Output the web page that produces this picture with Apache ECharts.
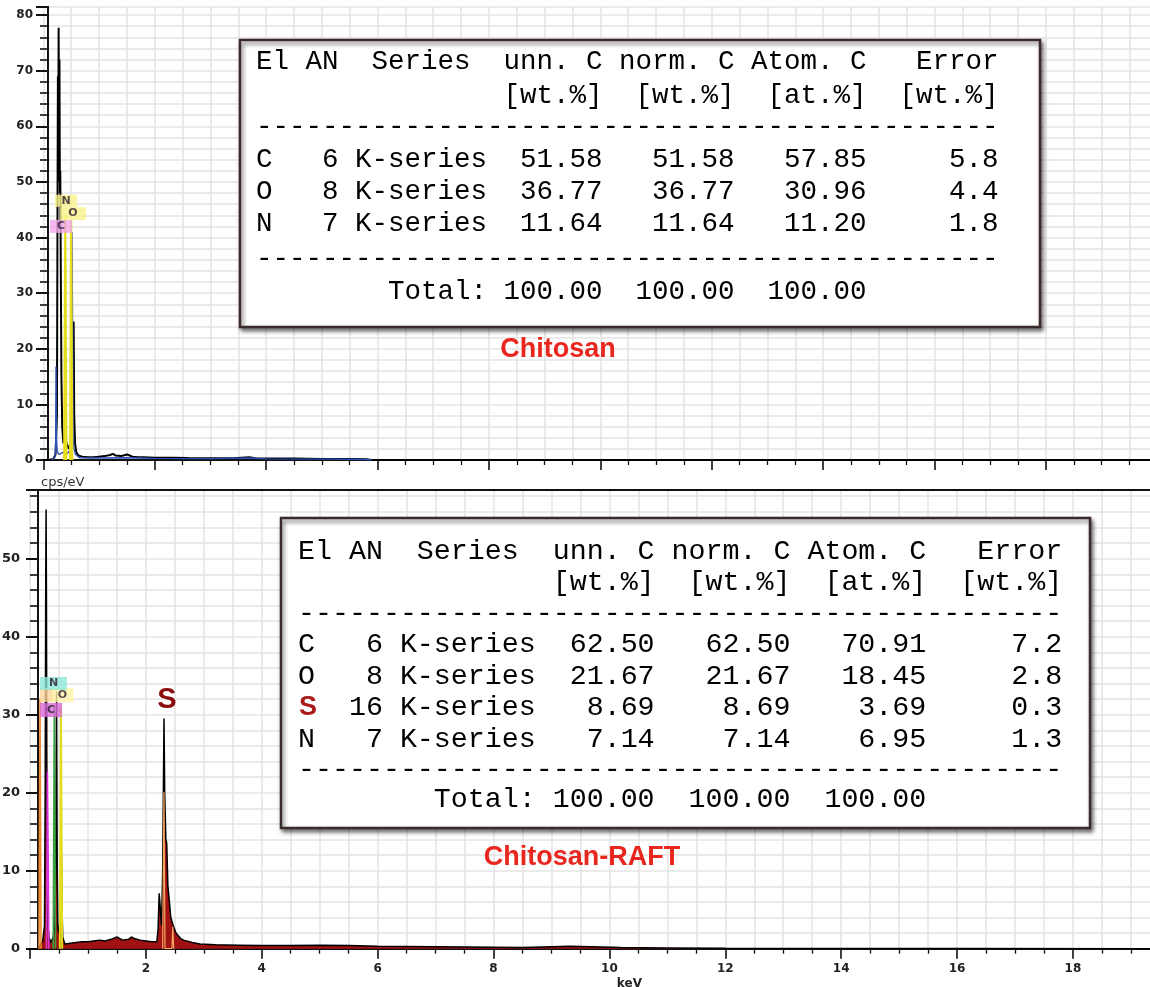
<!DOCTYPE html>
<html><head><meta charset="utf-8">
<script src="https://cdn.jsdelivr.net/npm/echarts@6/dist/echarts.min.js"></script>
<style>html,body{margin:0;padding:0;background:#fff}#c{width:1150px;height:987px}</style>
</head><body><div id="c"></div>
<script>
// ---------------- DATA ----------------
// Chitosan spectrum (keV, cps/eV)
const topSpecE = [0.00,0.10,0.18,0.22,0.245,0.255,0.262,0.268,0.275,0.282,0.290,0.298,0.305,0.315,0.325,0.34,0.36,0.39,0.42,0.46,0.50,0.52,0.545,0.555,0.57,0.59,0.63,0.70,0.80,0.90,1.00,1.10,1.20,1.25,1.30,1.40,1.50,1.55,1.60,1.70,1.80,2.00,2.30,2.60,3.00,3.40,3.70,3.80,4.00,4.50,5.00,5.50,5.80,5.90,6.20,7.00,8.00,10.00,14.00,20.00];
const topSpecY = [0,0,0.2,1,8,45,69,50,77.7,60,72,48,52,33,15,6,3,4,3,2,3,6,24.9,8,3,1.5,0.8,0.6,0.5,0.5,0.6,0.7,0.9,1.1,0.8,0.7,1.0,0.8,0.6,0.5,0.5,0.4,0.4,0.35,0.3,0.3,0.5,0.3,0.25,0.25,0.2,0.2,0.15,0,0,0,0,0,0,0];
const topBlueE = [0.15,0.21,0.222,0.228,0.236,0.25,0.28,0.32,0.38,0.44,0.49,0.505,0.515,0.525,0.535,0.55,0.58,0.65,1.0,1.5,2.0,3.0,3.7,4.0,5.0,5.8,5.9];
const topBlueY = [0,0.5,3,16.8,4,1.5,1,1.2,1.5,1.2,2,10,41,24.9,6,2,1,0.4,0.35,0.4,0.3,0.25,0.35,0.2,0.15,0.1,0];
const topNLineE = [0.375,0.395,0.415];
const topNLineY = [0,44,0];
const topOLineE = [0.48,0.50,0.52];
const topOLineY = [0,43,0];

// Chitosan-RAFT spectrum
const botSpecE = [0.00,0.14,0.18,0.22,0.25,0.262,0.272,0.278,0.284,0.29,0.30,0.31,0.33,0.36,0.40,0.43,0.445,0.458,0.47,0.48,0.50,0.52,0.53,0.54,0.55,0.565,0.60,0.70,0.80,0.90,1.00,1.10,1.20,1.30,1.40,1.50,1.55,1.60,1.70,1.75,1.80,1.90,2.00,2.10,2.19,2.21,2.23,2.25,2.27,2.29,2.313,2.325,2.345,2.36,2.38,2.40,2.43,2.47,2.52,2.60,2.65,2.80,2.93,3.20,3.60,4.00,4.50,5.00,5.50,6.00,7.00,8.00,8.50,9.00,9.30,9.70,10.20,11.00,12.00,14.00,16.00,20.00];
const botSpecY = [0,0,0.5,1,3,20,48,56.3,45,25,10,3,1.4,0.8,1.5,3,12,33,10,2.8,2,4,8,13.5,6,1.5,0.6,0.7,0.8,0.9,0.9,1.0,1.1,1.0,1.2,1.5,1.3,1.1,1.2,1.5,1.3,1.1,1.0,0.9,0.9,2.5,7.1,7.1,3,10,29.5,20,14,13.5,8,6.5,4,3,2,1.3,1.1,0.8,0.6,0.5,0.45,0.4,0.4,0.45,0.4,0.3,0.25,0.2,0.15,0.25,0.3,0.25,0.15,0.1,0.05,0.03,0.02,0];
const botOrangeE = [0.155,0.173,0.19];
const botOrangeY = [0,32,0];
const botCLineE = [0.285,0.300,0.316,0.325];
const botCLineY = [0,22.7,9.9,0];
const botNLineE = [0.40,0.42,0.44];
const botNLineY = [0,31,0];
const botOLineE = [0.515,0.535,0.555];
const botOLineY = [0,31,0];
const botSLineE = [2.29,2.312,2.33,2.45,2.464,2.48];
const botSLineY = [0,20.1,0,0,2.8,0];

// Quantification tables
const topEl = ['C','O','N'];
const topAN = [6,8,7];
const topUnn = [51.58,36.77,11.64];
const topNorm = [51.58,36.77,11.64];
const topAtom = [57.85,30.96,11.20];
const topErr = [5.8,4.4,1.8];
const topTot = [100.00,100.00,100.00];
const botEl = ['C','O','S','N'];
const botAN = [6,8,16,7];
const botUnn = [62.50,21.67,8.69,7.14];
const botNorm = [62.50,21.67,8.69,7.14];
const botAtom = [70.91,18.45,3.69,6.95];
const botErr = [7.2,2.8,0.3,1.3];
const botTot = [100.00,100.00,100.00];

// tick settings
const xInterval = 2, yInterval = 10;

// ---------------- BUILD ----------------
const pairs = (E, Y) => E.map((e, i) => [e, Y[i]]);
const GRID = '#e4e4e4';
const AX = '#111';

function tableLines(el, an, unn, norm, atom, err, tot) {
  const L = ['El AN  Series  unn. C norm. C Atom. C   Error',
             ' '.repeat(15) + '[wt.%]  [wt.%]  [at.%]  [wt.%]',
             '-'.repeat(45)];
  el.forEach((e, i) => {
    L.push((e === 'S' ? ' ' : e).padEnd(3) + String(an[i]).padStart(2) + ' K-series' +
      unn[i].toFixed(2).padStart(7) + norm[i].toFixed(2).padStart(8) +
      atom[i].toFixed(2).padStart(8) + err[i].toFixed(1).padStart(8));
  });
  L.push('-'.repeat(45));
  L.push(' '.repeat(8) + 'Total:' + tot[0].toFixed(2).padStart(7) + tot[1].toFixed(2).padStart(8) + tot[2].toFixed(2).padStart(8));
  return L;
}

function tableGraphic(box, textX, rowYs, fontSize, lines, sRowY) {
  const g = [{
    type: 'rect', z: 50,
    shape: { x: box[0], y: box[1], width: box[2], height: box[3] },
    style: { fill: '#fff', stroke: '#3a2a2a', lineWidth: 2.5,
             shadowBlur: 4, shadowColor: 'rgba(0,0,0,0.55)', shadowOffsetX: 2, shadowOffsetY: 3 }
  }];
  lines.forEach((t, i) => {
    g.push({ type: 'text', z: 51, x: textX, y: rowYs[i],
      style: { text: t, fontSize: fontSize, fontFamily: '"Liberation Mono","DejaVu Sans Mono",monospace',
               fill: '#000', align: 'left', verticalAlign: 'middle' } });
  });
  if (sRowY !== undefined) {
    g.push({ type: 'text', z: 52, x: textX + 1, y: sRowY,
      style: { text: 'S', fontSize: 27, fontWeight: 'bold', fontFamily: '"Liberation Sans",Arial,sans-serif',
               fill: '#a81c1c', align: 'left', verticalAlign: 'middle' } });
  }
  return g;
}

const topLines = tableLines(topEl, topAN, topUnn, topNorm, topAtom, topErr, topTot);
const botLines = tableLines(botEl, botAN, botUnn, botNorm, botAtom, botErr, botTot);
const topRowY = [62, 96, 127, 160, 192, 224, 259, 292];
const botRowY = [552, 583, 614, 645, 677, 708, 740, 770, 800];

// element tag placements (label positions in data units)
const topTags = [
  { t: 'C', e: 0.318, v: 42.0, w: 22, h: 13, bg: '#f2a6ee' },
  { t: 'O', e: 0.533, v: 44.3, w: 26, h: 13, bg: '#f7f38a' },
  { t: 'N', e: 0.408, v: 46.6, w: 22, h: 12, bg: '#f7f38a' }
];
const botTags = [
  { t: '', e: 0.293, v: 32.5, w: 14, h: 14, bg: '#ffd59a' },
  { t: 'O', e: 0.561, v: 32.5, w: 22, h: 14, bg: '#fff3a6' },
  { t: 'N', e: 0.406, v: 34.0, w: 27, h: 13, bg: '#8ee8da' },
  { t: 'C', e: 0.362, v: 30.6, w: 22, h: 14, bg: '#d96ad9' }
];
const tagData = tags => tags.map(g => ({
  value: [g.e, g.v], symbol: 'rect', symbolSize: [g.w, g.h], itemStyle: { color: g.bg },
  label: { show: true, position: 'inside', formatter: g.t, color: '#2a1a2a', fontSize: 11, fontWeight: 'bold',
           fontFamily: '"DejaVu Sans",sans-serif' }
}));

function xAxisCfg(grid, showLabel) {
  return {
    gridIndex: grid, type: 'value', min: 0, max: 20, interval: xInterval,
    axisLine: { show: true, onZero: false, lineStyle: { color: AX, width: 2 } },
    axisTick: { show: true, length: 10, lineStyle: { color: AX, width: 1.6 } },
    minorTick: { show: true, splitNumber: 4, length: 5, lineStyle: { color: AX, width: 1.3 } },
    axisLabel: { show: showLabel, margin: 14, fontSize: 12, fontWeight: 'bold', color: '#222',
                 fontFamily: '"DejaVu Sans",sans-serif', showMinLabel: false, showMaxLabel: false },
    splitLine: { show: true, lineStyle: { color: GRID, width: 1.5 } },
    minorSplitLine: { show: true, lineStyle: { color: GRID, width: 1.5 } }
  };
}
function yAxisCfg(grid, max, offset, margin, fs) {
  return {
    gridIndex: grid, type: 'value', min: 0, max: max, interval: yInterval, offset: offset,
    axisLine: { show: true, onZero: false, lineStyle: { color: AX, width: 2 } },
    axisTick: { show: true, length: 12, lineStyle: { color: AX, width: 2 } },
    minorTick: { show: true, splitNumber: 5, length: 8, lineStyle: { color: AX, width: 1.6 } },
    axisLabel: { margin: margin, fontSize: fs, fontWeight: 'bold', color: '#222',
                 fontFamily: '"DejaVu Sans",sans-serif', showMaxLabel: false },
    splitLine: { show: true, lineStyle: { color: GRID, width: 1.5 } },
    minorSplitLine: { show: true, lineStyle: { color: GRID, width: 1.5 } }
  };
}
const lineS = (name, xi, data, color, width, extra) => Object.assign({
  name, type: 'line', xAxisIndex: xi, yAxisIndex: xi, data, showSymbol: false, symbol: 'none',
  lineStyle: { color, width }, itemStyle: { color }, silent: true, z: 3
}, extra || {});

const xb = xAxisCfg(1, true);
xb.name = 'keV'; xb.nameLocation = 'middle'; xb.nameGap = 29;
xb.nameTextStyle = { fontSize: 12, fontWeight: 'bold', color: '#222', padding: [0, 0, 0, 40], fontFamily: '"DejaVu Sans",sans-serif' };
const yb = yAxisCfg(1, 58.8, -8, 18, 13);
yb.name = 'cps/eV'; yb.nameLocation = 'end'; yb.nameGap = 1;
yb.nameTextStyle = { align: 'left', fontSize: 13, color: '#333', padding: [0, 0, 0, 3], fontFamily: '"DejaVu Sans",sans-serif' };

const option = {
  backgroundColor: '#fff',
  animation: false,
  grid: [
    { left: 43.3, top: 6.7, width: 20 * 55.7, height: 453.3, containLabel: false, outerBoundsMode: 'none' },
    { left: 30, top: 490, width: 20 * 57.94, height: 458.7, containLabel: false, outerBoundsMode: 'none' }
  ],
  xAxis: [xAxisCfg(0, false), xb],
  yAxis: [yAxisCfg(0, 81.5, -4.7, 15, 12), yb],
  series: [
    lineS('Chitosan', 0, pairs(topSpecE, topSpecY), '#000', 2),
    lineS('Chitosan fit', 0, pairs(topBlueE, topBlueY), '#2f4fb8', 1.4),
    lineS('N', 0, pairs(topNLineE, topNLineY), '#e6dc1e', 2.2),
    lineS('O', 0, pairs(topOLineE, topOLineY), '#e6dc1e', 2.2),
    { type: 'scatter', xAxisIndex: 0, yAxisIndex: 0, z: 6, silent: true, data: tagData(topTags) },

    lineS('Chitosan-RAFT', 1, pairs(botSpecE, botSpecY), '#000', 1.5,
          { areaStyle: { color: '#a01212', opacity: 1 } }),
    lineS('orange', 1, pairs(botOrangeE, botOrangeY), '#ef8a34', 1.6),
    lineS('C', 1, pairs(botCLineE, botCLineY), '#d838d8', 1.6),
    lineS('N', 1, pairs(botNLineE, botNLineY), '#3aa040', 1.6),
    lineS('O', 1, pairs(botOLineE, botOLineY), '#e2dc20', 2),
    lineS('S', 1, pairs(botSLineE, botSLineY), '#f4a860', 1.2),
    { type: 'scatter', xAxisIndex: 1, yAxisIndex: 1, z: 6, silent: true, data: tagData(botTags) },
    { type: 'scatter', xAxisIndex: 1, yAxisIndex: 1, z: 7, silent: true,
      data: [{ value: [2.365, 30.0], symbol: 'circle', symbolSize: 1, itemStyle: { color: 'rgba(255,255,255,0)' },
               label: { show: true, position: 'top', distance: 0, formatter: 'S', color: '#8a0c0c', fontSize: 29,
                        fontWeight: 'bold', textBorderWidth: 0, opacity: 1,
                        fontFamily: '"Liberation Sans",Arial,sans-serif' } }] }
  ],
  graphic: [
    { type: 'line', z: 20, shape: { x1: 38, y1: 490, x2: 1150, y2: 490 }, style: { stroke: '#111', lineWidth: 2 } },
    ...tableGraphic([240, 40, 800, 287], 256, topRowY, 27.5, topLines),
    ...tableGraphic([281, 518, 809, 310], 298, botRowY, 28.3, botLines, botRowY[3 + botEl.indexOf('S')]),
    { type: 'text', z: 30, x: 558, y: 350, style: { text: 'Chitosan', fontSize: 27, fontWeight: 'bold',
      fontFamily: '"Liberation Sans",Arial,sans-serif', fill: '#e8261e', align: 'center', verticalAlign: 'middle' } },
    { type: 'text', z: 30, x: 582, y: 858, style: { text: 'Chitosan-RAFT', fontSize: 27, fontWeight: 'bold',
      fontFamily: '"Liberation Sans",Arial,sans-serif', fill: '#e8261e', align: 'center', verticalAlign: 'middle' } }
  ]
};
const chart = echarts.init(document.getElementById('c'), null, { renderer: 'canvas', width: 1150, height: 987 });
chart.setOption(option);
</script>
</body></html>
